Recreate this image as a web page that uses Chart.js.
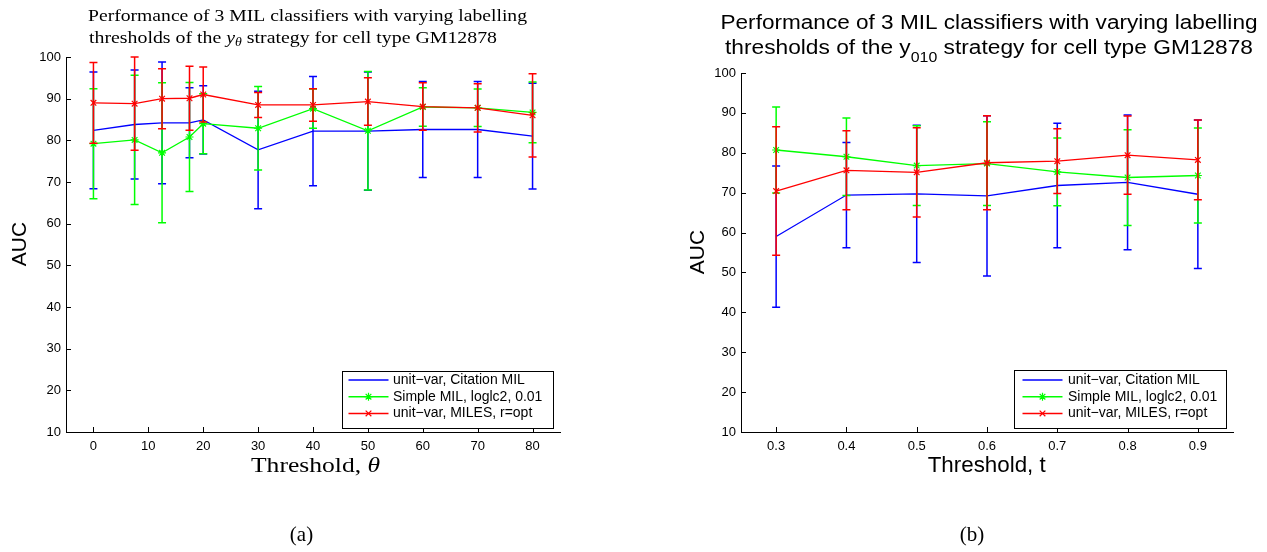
<!DOCTYPE html>
<html>
<head>
<meta charset="utf-8">
<script src="https://cdn.jsdelivr.net/npm/chart.js@4.4.1/dist/chart.umd.min.js"></script>
<style>
  html, body { margin: 0; padding: 0; background: #fff; }
  #wrap { position: relative; width: 1267px; height: 552px; overflow: hidden; background: #fff; }
  #wrap canvas { position: absolute; top: 0; }
  #cA { left: 0; width: 633px; height: 552px; }
  #cB { left: 633px; width: 634px; height: 552px; }
</style>
</head>
<body>
<div id="wrap">
  <canvas id="cA" width="633" height="552"></canvas>
  <canvas id="cB" width="634" height="552"></canvas>
</div>
<script>
// ---- series names ----
const seriesLabels = ['unit\u2212var, Citation MIL', 'Simple MIL, loglc2, 0.01', 'unit\u2212var, MILES, r=opt'];

// ---- (a) threshold theta ----
const thetaValues = [0, 7.5, 12.5, 17.5, 20, 30, 40, 50, 60, 70, 80];
const thetaTicks = [0, 10, 20, 30, 40, 50, 60, 70, 80];
const citationAucA = [82.4, 83.8, 84.2, 84.2, 84.9, 77.7, 82.2, 82.2, 82.6, 82.6, 81.0];
const citationErrA = [14.0, 13.1, 14.6, 8.4, 8.2, 14.1, 13.1, 14.2, 11.5, 11.5, 12.7];
const simpleAucA   = [79.2, 80.1, 77.0, 80.8, 84.0, 82.9, 87.6, 82.3, 88.0, 87.8, 86.7];
const simpleErrA   = [13.2, 15.5, 16.8, 13.1, 7.2, 10.0, 4.7, 14.2, 4.6, 4.5, 7.3];
const milesAucA    = [89.0, 88.8, 90.0, 90.1, 91.0, 88.5, 88.5, 89.3, 88.1, 87.8, 86.0];
const milesErrA    = [9.7, 11.2, 7.2, 7.7, 6.6, 3.0, 3.9, 5.7, 5.7, 5.8, 10.0];

// ---- (b) threshold t ----
const tValues = [0.3, 0.4, 0.5, 0.6, 0.7, 0.8, 0.9];
const tTicks  = [0.3, 0.4, 0.5, 0.6, 0.7, 0.8, 0.9];
const citationAucB = [59.0, 69.4, 69.7, 69.2, 71.8, 72.6, 69.6];
const citationErrB = [17.7, 13.2, 17.2, 20.1, 15.6, 16.9, 18.6];
const simpleAucB   = [80.7, 79.0, 76.8, 77.3, 75.2, 73.8, 74.3];
const simpleErrB   = [10.8, 9.7, 10.0, 10.5, 8.5, 12.0, 11.9];
const milesAucB    = [70.4, 75.6, 75.1, 77.5, 77.9, 79.4, 78.2];
const milesErrB    = [16.1, 9.9, 11.2, 11.8, 8.1, 9.8, 10.0];

// shared AUC axis ticks
const aucTicks = [10, 20, 30, 40, 50, 60, 70, 80, 90, 100];

// ---- styling ----
const seriesColors = ['#0000ff', '#00ff00', '#ff0000'];
const seriesMarkers = [false, 'star', 'crossRot'];
const SANS = '"Liberation Sans", Arial, Helvetica, sans-serif';
const SERIF = '"Liberation Serif", "Times New Roman", serif';

function buildDatasets(xs, means, errs) {
  return means.map((m, i) => ({
    label: seriesLabels[i],
    data: xs.map((x, j) => ({ x: x, y: m[j] })),
    errors: errs[i],
    borderColor: seriesColors[i],
    backgroundColor: seriesColors[i],
    borderWidth: 1.3,
    tension: 0,
    fill: false,
    pointStyle: seriesMarkers[i],
    pointRadius: seriesMarkers[i] ? 4 : 0,
    pointBorderWidth: 1.2,
    pointBorderColor: seriesColors[i],
    order: 3 - i
  }));
}

// draw a line of mixed-font text runs, optionally stretched to a given width
function drawRuns(ctx, runs, x, baseline, align, fitWidth) {
  let total = 0;
  runs.forEach(r => { ctx.font = r.font; r.w = ctx.measureText(r.text).width; total += r.w; });
  const sx = fitWidth ? fitWidth / total : 1;
  const startX = align === 'center' ? x - total * sx / 2 : x;
  ctx.save();
  ctx.translate(startX, baseline);
  ctx.scale(sx, 1);
  ctx.textAlign = 'left';
  ctx.textBaseline = 'alphabetic';
  ctx.fillStyle = '#000';
  let cx = 0;
  runs.forEach(r => { ctx.font = r.font; ctx.fillText(r.text, cx, r.dy || 0); cx += r.w; });
  ctx.restore();
}

// vertical error bars with caps, painted just before each series' line
const errorBarPlugin = {
  id: 'errorBars',
  beforeDatasetDraw(chart, args, opts) {
    const ds = chart.data.datasets[args.index];
    if (!ds.errors) return;
    const ctx = chart.ctx, xs = chart.scales.x, ys = chart.scales.y;
    const cap = opts.cap || 4;
    ctx.save();
    ctx.strokeStyle = ds.borderColor;
    ctx.lineWidth = opts.width || 1.5;
    ds.data.forEach((p, i) => {
      const e = ds.errors[i];
      const px = xs.getPixelForValue(p.x);
      const yt = ys.getPixelForValue(p.y + e);
      const yb = ys.getPixelForValue(p.y - e);
      ctx.beginPath();
      ctx.moveTo(px, yt); ctx.lineTo(px, yb);
      ctx.moveTo(px - cap, yt); ctx.lineTo(px + cap, yt);
      ctx.moveTo(px - cap, yb); ctx.lineTo(px + cap, yb);
      ctx.stroke();
    });
    ctx.restore();
  }
};

// inward tick marks on the left and bottom axes
const innerTicksPlugin = {
  id: 'innerTicks',
  afterDraw(chart, args, opts) {
    const ctx = chart.ctx, xs = chart.scales.x, ys = chart.scales.y, a = chart.chartArea;
    const len = opts.length || 5;
    ctx.save();
    ctx.strokeStyle = '#000';
    ctx.lineWidth = 1;
    ctx.beginPath();
    xs.ticks.forEach(t => {
      const px = Math.round(xs.getPixelForValue(t.value)) + 0.5;
      ctx.moveTo(px, a.bottom); ctx.lineTo(px, a.bottom - len);
    });
    ys.ticks.forEach(t => {
      const py = Math.round(ys.getPixelForValue(t.value)) + 0.5;
      ctx.moveTo(a.left, py); ctx.lineTo(a.left + len, py);
    });
    ctx.stroke();
    ctx.restore();
  }
};

// boxed legend inside the plot
const boxLegendPlugin = {
  id: 'boxLegend',
  afterDraw(chart, args, o) {
    const ctx = chart.ctx;
    ctx.save();
    ctx.fillStyle = '#fff';
    ctx.fillRect(o.left, o.top, o.width, o.height);
    ctx.strokeStyle = '#000';
    ctx.lineWidth = 1;
    ctx.strokeRect(Math.round(o.left) + 0.5, Math.round(o.top) + 0.5, Math.round(o.width), Math.round(o.height));
    chart.data.datasets.forEach((ds, i) => {
      const y = o.top + o.firstRow + i * o.rowGap;
      const x0 = o.left + o.lineStart, x1 = x0 + o.lineLength;
      ctx.strokeStyle = ds.borderColor;
      ctx.lineWidth = 1.5;
      ctx.beginPath(); ctx.moveTo(x0, y); ctx.lineTo(x1, y); ctx.stroke();
      if (ds.pointStyle) {
        ctx.lineWidth = 1.2;
        Chart.helpers.drawPoint(ctx, { pointStyle: ds.pointStyle, radius: ds.pointRadius, borderWidth: 1.2, rotation: 0 }, (x0 + x1) / 2, y);
      }
      ctx.fillStyle = '#000';
      ctx.font = o.font;
      ctx.textAlign = 'left';
      ctx.textBaseline = 'middle';
      ctx.fillText(ds.label, x1 + o.textGap, y);
    });
    ctx.restore();
  }
};

// titles, axis titles and sub-figure caption
const textPlugin = {
  id: 'figText',
  afterDraw(chart, args, o) {
    const ctx = chart.ctx;
    (o.lines || []).forEach(l => drawRuns(ctx, l.runs, l.x, l.y, l.align, l.fit));
    if (o.yTitle) {
      ctx.save();
      ctx.translate(o.yTitle.x, o.yTitle.y);
      ctx.rotate(-Math.PI / 2);
      ctx.font = o.yTitle.font;
      ctx.fillStyle = '#000';
      ctx.textAlign = 'center';
      ctx.textBaseline = 'alphabetic';
      ctx.fillText(o.yTitle.text, 0, 0);
      ctx.restore();
    }
  }
};

function makeChart(canvasId, xs, means, errs, xMin, xMax, xTickVals, xFmt, area, canvasW, extra) {
  return new Chart(document.getElementById(canvasId), {
    type: 'line',
    data: { datasets: buildDatasets(xs, means, errs) },
    plugins: [errorBarPlugin, innerTicksPlugin, boxLegendPlugin, textPlugin],
    options: {
      responsive: false,
      animation: false,
      devicePixelRatio: 1,
      layout: { padding: { left: 0, top: area.top, right: canvasW - area.right, bottom: 0 } },
      plugins: {
        legend: { display: false },
        title: { display: false },
        tooltip: { enabled: false },
        errorBars: { cap: 4, width: 1.5 },
        innerTicks: { length: 5 },
        boxLegend: extra.legend,
        figText: extra.text
      },
      scales: {
        x: {
          type: 'linear',
          min: xMin, max: xMax,
          afterBuildTicks: s => { s.ticks = xTickVals.map(v => ({ value: v })); },
          afterFit: s => { s.height = 552 - area.bottom; },
          grid: { display: false, drawTicks: false },
          border: { display: true, color: '#000', width: 1 },
          ticks: {
            color: '#000', padding: 7, maxRotation: 0, autoSkip: false,
            font: { family: SANS, size: 13 },
            callback: xFmt
          }
        },
        y: {
          type: 'linear',
          min: 10, max: 100,
          afterBuildTicks: s => { s.ticks = aucTicks.map(v => ({ value: v })); },
          afterFit: s => { s.width = area.left; },
          grid: { display: false, drawTicks: false },
          border: { display: true, color: '#000', width: 1 },
          ticks: {
            color: '#000', padding: 5, autoSkip: false,
            font: { family: SANS, size: 13 },
            callback: v => String(v)
          }
        }
      }
    }
  });
}

// ---- chart (a) ----
makeChart('cA', thetaValues,
  [citationAucA, simpleAucA, milesAucA],
  [citationErrA, simpleErrA, milesErrA],
  -5, 85, thetaTicks, v => String(v),
  { left: 66, right: 560, top: 57, bottom: 432 }, 633,
  {
    legend: { left: 342, top: 371, width: 211, height: 57, firstRow: 9, rowGap: 16.7,
              lineStart: 6.5, lineLength: 40, textGap: 4.5, font: '14px ' + SANS },
    text: {
      lines: [
        { runs: [{ text: 'Performance of 3 MIL classifiers with varying labelling', font: '16.5px ' + SERIF }],
          x: 88, y: 21, align: 'left', fit: 439 },
        { runs: [
            { text: 'thresholds of the ', font: '16.5px ' + SERIF },
            { text: 'y', font: 'italic 16.5px ' + SERIF },
            { text: '\u03b8', font: 'italic 11.5px ' + SERIF, dy: 3 },
            { text: ' strategy for cell type GM12878', font: '16.5px ' + SERIF }
          ], x: 89, y: 43, align: 'left', fit: 408 },
        { runs: [
            { text: 'Threshold, ', font: '22px ' + SERIF },
            { text: '\u03b8', font: 'italic 22px ' + SERIF }
          ], x: 315.5, y: 472, align: 'center', fit: 129 },
        { runs: [{ text: '(a)', font: '21px ' + SERIF }], x: 301.5, y: 541, align: 'center' }
      ],
      yTitle: { text: 'AUC', font: '21px ' + SANS, x: 26, y: 244 }
    }
  });

// ---- chart (b) ----
makeChart('cB', tValues,
  [citationAucB, simpleAucB, milesAucB],
  [citationErrB, simpleErrB, milesErrB],
  0.25, 0.95, tTicks, v => Number(v).toFixed(1),
  { left: 108, right: 600, top: 73, bottom: 432 }, 634,
  {
    legend: { left: 381, top: 370, width: 212, height: 58, firstRow: 10, rowGap: 16.7,
              lineStart: 8.5, lineLength: 40, textGap: 5.5, font: '14px ' + SANS },
    text: {
      lines: [
        { runs: [{ text: 'Performance of 3 MIL classifiers with varying labelling', font: '20px ' + SANS }],
          x: 356, y: 29, align: 'center', fit: 537 },
        { runs: [
            { text: 'thresholds of the y', font: '20px ' + SANS },
            { text: '010', font: '14px ' + SANS, dy: 8 },
            { text: ' strategy for cell type GM12878', font: '20px ' + SANS }
          ], x: 356, y: 54, align: 'center', fit: 528 },
        { runs: [{ text: 'Threshold, t', font: '22px ' + SANS }], x: 353.7, y: 472, align: 'center', fit: 118 },
        { runs: [{ text: '(b)', font: '21px ' + SERIF }], x: 339, y: 541, align: 'center' }
      ],
      yTitle: { text: 'AUC', font: '21px ' + SANS, x: 71, y: 252 }
    }
  });
</script>
</body>
</html>
